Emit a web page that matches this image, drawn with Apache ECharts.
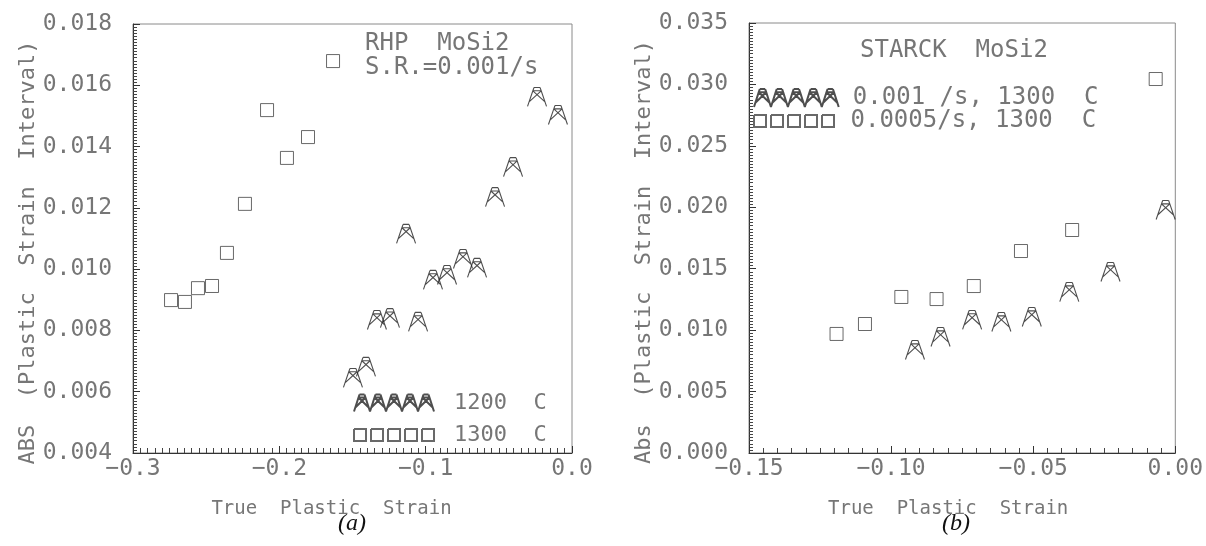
<!DOCTYPE html>
<html>
<head>
<meta charset="utf-8">
<script src="https://cdn.jsdelivr.net/npm/echarts@6/dist/echarts.min.js"></script>
<style>
  html, body { margin: 0; padding: 0; background: #fff; }
  #chart { width: 1206px; height: 546px; }
</style>
</head>
<body>
<div id="chart"></div>
<script>
// (a) RHP MoSi2, strain rate 0.001/s
const rhp1200X = [-0.0239, -0.0096, -0.0403, -0.0526, -0.1134, -0.0745, -0.0649, -0.0950, -0.0854, -0.1333, -0.1244, -0.1052, -0.1497, -0.1408];
const rhp1200Y = [0.01562, 0.01503, 0.01333, 0.01235, 0.01115, 0.01033, 0.01004, 0.00965, 0.00981, 0.00834, 0.00840, 0.00828, 0.00645, 0.00681];
const rhp1300X = [-0.2740, -0.2645, -0.2556, -0.2460, -0.2358, -0.2235, -0.2084, -0.1948, -0.1804, -0.1633];
const rhp1300Y = [0.00899, 0.00893, 0.00938, 0.00945, 0.01053, 0.01213, 0.01519, 0.01363, 0.01431, 0.01679];

// (b) STARCK MoSi2 at 1300 C
const st001X = [-0.0916, -0.0826, -0.0715, -0.0612, -0.0505, -0.0373, -0.0228, -0.0034];
const st001Y = [0.00838, 0.00944, 0.01083, 0.01066, 0.01107, 0.01310, 0.01473, 0.01978];
const st0005X = [-0.1192, -0.1092, -0.0964, -0.0840, -0.0709, -0.0543, -0.0363, -0.0069];
const st0005Y = [0.00969, 0.01050, 0.01270, 0.01253, 0.01359, 0.01644, 0.01815, 0.03044];

// series names / legend texts
const namesA = ['1200  C', '1300  C'];
const namesB = ['0.001 /s, 1300  C', '0.0005/s, 1300  C'];

const pair = (xs, ys) => xs.map((x, i) => [x, ys[i]]);

const FONT = 'DejaVu Sans Mono';
const GREY = '#767676';
const INK = '#222';

// truss-like triangle glyph: small cap, two legs, crossing braces
const TRI = 'M7.5,2L12.5,2M6.5,5L13.5,5M7.5,2L6.5,5M12.5,2L13.5,5M6.5,5L2,19M13.5,5L18,19M6.5,5L16.7,15M13.5,5L3.3,15';
function repeatPath(p, n, dx) {
  let out = '';
  for (let k = 0; k < n; k++) {
    out += p.replace(/([ML])([\d.]+),([\d.]+)/g, (m, c, x, y) => c + (parseFloat(x) + k * dx).toFixed(2) + ',' + y);
  }
  return out;
}
const TRI_ROW = 'path://' + repeatPath(TRI, 5, 16);
const SQ = 'M0,0L12,0L12,12L0,12L0,0';
const SQ_ROW = 'path://' + repeatPath(SQ, 5, 17);

const hollow = { color: 'rgba(0,0,0,0)', borderColor: INK, borderWidth: 1.1 };
const hollowSq = { color: 'rgba(0,0,0,0)', borderColor: '#444', borderWidth: 1 };
const minus = s => s.replace('-', '\u2212');

function xAxisCfg(gridIndex, min, max, interval, digits, minorSplit, padRight) {
  return {
    type: 'value', gridIndex, min, max, interval,
    name: 'True  Plastic  Strain', nameLocation: 'middle', nameGap: 47,
    nameTextStyle: { fontFamily: FONT, fontSize: 19, color: GREY, padding: [0, padRight, 0, 0] },
    axisLine: { show: true, onZero: false, lineStyle: { color: '#333', width: 1 } },
    axisTick: { show: true, inside: true, length: 7, lineStyle: { color: '#333' } },
    minorTick: { show: true, splitNumber: minorSplit, length: 5, lineStyle: { color: '#444' } },
    splitLine: { show: false }, minorSplitLine: { show: false },
    axisLabel: { margin: 5, fontFamily: FONT, fontSize: 23, color: GREY,
      formatter: v => minus(v.toFixed(digits)) }
  };
}
function yAxisCfg(gridIndex, min, max, interval, name, minorSplit) {
  return {
    type: 'value', gridIndex, min, max, interval,
    name, nameLocation: 'middle', nameGap: 93,
    nameTextStyle: { fontFamily: FONT, fontSize: 22, color: GREY, padding: [0, 28, 0, 0] },
    axisLine: { show: true, onZero: false, lineStyle: { color: '#333', width: 1 } },
    axisTick: { show: true, inside: true, length: 7, lineStyle: { color: '#333' } },
    minorTick: { show: true, splitNumber: minorSplit, length: 4, lineStyle: { color: '#444' } },
    splitLine: { show: false }, minorSplitLine: { show: false },
    axisLabel: { margin: 21, fontFamily: FONT, fontSize: 23, color: GREY,
      formatter: v => v.toFixed(3) }
  };
}
function legendRow(name, icon, w, h, left, top, size, gap) {
  return {
    data: [{ name, icon }], left, top, orient: 'horizontal', selectedMode: false,
    itemWidth: w, itemHeight: h, padding: 0,
    textStyle: { fontFamily: FONT, fontSize: size, color: GREY, padding: [0, 0, 0, gap] }
  };
}

const chart = echarts.init(document.getElementById('chart'), null, { renderer: 'canvas' });
chart.setOption({
  backgroundColor: '#fff',
  animation: false,
  grid: [
    { left: 133, top: 24, width: 439, height: 429, show: true, borderColor: '#8a8a8a', borderWidth: 1, backgroundColor: 'transparent' },
    { left: 749, top: 23, width: 434, height: 430, show: true, borderColor: '#8a8a8a', borderWidth: 1, backgroundColor: 'transparent' }
  ],
  xAxis: [
    xAxisCfg(0, -0.3, 0, 0.1, 1, 20, 42),
    xAxisCfg(1, -0.15, 0, 0.05, 2, 10, 28)
  ],
  yAxis: [
    yAxisCfg(0, 0.004, 0.018, 0.002, 'ABS  (Plastic  Strain  Interval)', 20),
    yAxisCfg(1, 0, 0.035, 0.005, 'Abs  (Plastic  Strain  Interval)', 20)
  ],
  legend: [
    legendRow(namesA[0], TRI_ROW, 80, 18, 353, 392, 22, 15),
    legendRow(namesA[1], SQ_ROW, 80, 12, 353, 424, 22, 15),
    legendRow(namesB[0], TRI_ROW, 87, 18, 753, 86, 24, 8),
    legendRow(namesB[1], SQ_ROW, 87, 12, 753, 109, 24, 8)
  ],
  series: [
    { name: namesA[0], type: 'scatter', xAxisIndex: 0, yAxisIndex: 0, symbol: 'path://' + TRI, symbolSize: [19, 19], itemStyle: hollow, data: pair(rhp1200X, rhp1200Y) },
    { name: namesA[1], type: 'scatter', xAxisIndex: 0, yAxisIndex: 0, symbol: 'rect', symbolSize: 13, itemStyle: hollowSq, data: pair(rhp1300X, rhp1300Y) },
    { name: namesB[0], type: 'scatter', xAxisIndex: 1, yAxisIndex: 1, symbol: 'path://' + TRI, symbolSize: [19, 19], itemStyle: hollow, data: pair(st001X, st001Y) },
    { name: namesB[1], type: 'scatter', xAxisIndex: 1, yAxisIndex: 1, symbol: 'rect', symbolSize: 13, itemStyle: hollowSq, data: pair(st0005X, st0005Y) }
  ],
  graphic: [
    { type: 'text', left: 365, top: 32, style: { text: 'RHP  MoSi2', font: '24px "DejaVu Sans Mono"', fill: GREY } },
    { type: 'text', left: 365, top: 56, style: { text: 'S.R.=0.001/s', font: '24px "DejaVu Sans Mono"', fill: GREY } },
    { type: 'text', left: 860, top: 39, style: { text: 'STARCK  MoSi2', font: '24px "DejaVu Sans Mono"', fill: GREY } },
    { type: 'text', left: 338, top: 512, style: { text: '(a)', font: 'italic 24px "Liberation Serif"', fill: '#111' } },
    { type: 'text', left: 942, top: 512, style: { text: '(b)', font: 'italic 24px "Liberation Serif"', fill: '#111' } }
  ]
});
</script>
</body>
</html>
